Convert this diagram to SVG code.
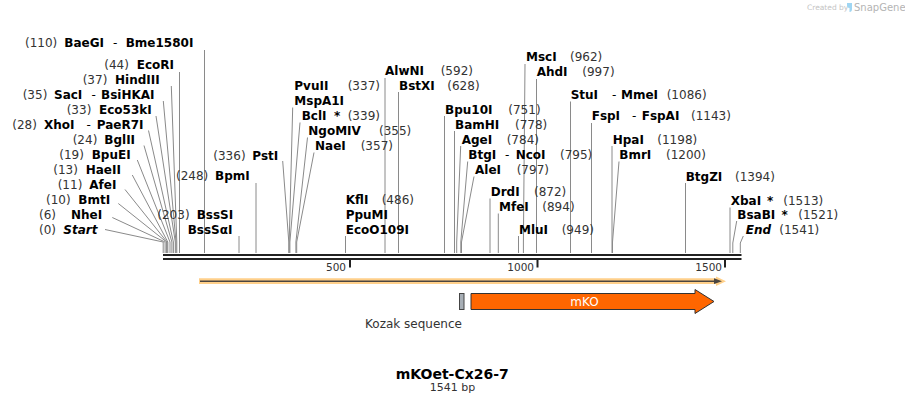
<svg xmlns="http://www.w3.org/2000/svg" width="905" height="404" viewBox="0 0 905 404">
<style>
text{font-family:"DejaVu Sans",Verdana,sans-serif}
.n{font-size:12px;font-weight:bold;fill:#000}
.i{font-style:italic}
.p{font-size:12px;fill:#333}
.d{font-size:12px;fill:#000}
.ln{stroke:#8a8a8a;stroke-width:1;fill:none}
.rl{stroke:#222;stroke-width:2}
.tk{fill:#222}
.tl{font-size:10.5px;fill:#333;text-anchor:end}
</style>
<rect width="905" height="404" fill="#fff"/>

<g id="logo">
<text x="807" y="10" style="font-size:7.5px;fill:#c4c4c4">Created by</text>
<path d="M847,3 h5 v6 q0,3 -2.5,3 v-4 q-2.5,0 -2.5,-2.5z" fill="#9fd5f2"/>
<text x="854" y="11" style="font-size:10px;fill:#b4b4b4">SnapGene</text>
</g>

<g id="connectors">
<path class="ln" d="M204.5,50V253M179.5,72V253"/>
<polyline class="ln" points="171.3,86 176.8,242 176.8,253"/>
<polyline class="ln" points="163.3,101 176,242 176,253"/>
<polyline class="ln" points="156,116 175.3,242 175.3,253"/>
<polyline class="ln" points="148.5,130.5 173.4,242 173.4,253"/>
<polyline class="ln" points="144,145.5 171.9,242 171.9,253"/>
<polyline class="ln" points="137.3,160 170,242 170,253"/>
<polyline class="ln" points="132.3,175 167.8,242 167.8,253"/>
<polyline class="ln" points="125,189.5 167,242 167,253"/>
<polyline class="ln" points="118.3,203.5 166.6,242 166.6,253"/>
<polyline class="ln" points="112.3,217.5 165.1,242 165.1,253"/>
<polyline class="ln" points="105,229.5 163.2,242 163.2,253"/>
<path class="ln" d="M256,183V253M239,236V253"/>
<polyline class="ln" points="282.7,161 288.8,242 288.8,253"/>
<polyline class="ln" points="292.7,107.5 289.2,242 289.2,253"/>
<polyline class="ln" points="300,122.5 289.9,242 289.9,253"/>
<polyline class="ln" points="307.5,137.5 295.9,242 295.9,253"/>
<polyline class="ln" points="314,152.5 296.7,242 296.7,253"/>
<path class="ln" d="M385,78V253M398.5,92V253M345.5,236V253M444.5,116V253M454.5,131V253"/>
<polyline class="ln" points="460.7,146 456.7,242 456.7,253"/>
<polyline class="ln" points="467.7,161.5 460.8,242 460.8,253"/>
<polyline class="ln" points="474,176.5 461.5,242 461.5,253"/>
<path class="ln" d="M490,198.5V253M498.3,213.5V253M518.5,236V253"/>
<polyline class="ln" points="525,64 523.4,242 523.4,253"/>
<path class="ln" d="M536.5,79V253M570.5,101.5V253M591.5,123V253M612,146V253"/>
<polyline class="ln" points="619,161.5 612.5,242 612.5,253"/>
<path class="ln" d="M685.5,183V253M730,207.5V253"/>
<polyline class="ln" points="736.7,221 732.8,243 732.8,253"/>
<polyline class="ln" points="743.3,236 740.3,243 740.3,253"/>
</g>

<g id="ruler">
<line class="rl" x1="163" y1="255" x2="741.5" y2="255"/>
<line class="rl" x1="163" y1="259" x2="741.5" y2="259"/>
<rect class="tk" x="349" y="260" width="2" height="7.5"/>
<rect class="tk" x="536.5" y="260" width="2" height="7.5"/>
<rect class="tk" x="724" y="260" width="2" height="7.5"/>
<text class="tl" x="346" y="270.5">500</text>
<text class="tl" x="534" y="270.5">1000</text>
<text class="tl" x="722" y="270.5">1500</text>
</g>

<g id="n-BaeGI"><text class="p" x="25" y="47">(110)</text><text class="n" x="64.3" y="47">BaeGI</text><text class="d" x="113" y="47">-</text><text class="n" x="125.7" y="47">Bme1580I</text></g>
<g id="n-EcoRI"><text class="p" x="104.3" y="69">(44)</text><text class="n" x="136.7" y="69">EcoRI</text></g>
<g id="n-HindIII"><text class="p" x="82.7" y="84">(37)</text><text class="n" x="115" y="84">HindIII</text></g>
<g id="n-SacI"><text class="p" x="22.7" y="99">(35)</text><text class="n" x="54" y="99">SacI</text><text class="d" x="91.5" y="99">-</text><text class="n" x="101" y="99">BsiHKAI</text></g>
<g id="n-Eco53kI"><text class="p" x="66.7" y="114">(33)</text><text class="n" x="99" y="114">Eco53kI</text></g>
<g id="n-XhoI"><text class="p" x="12.3" y="129">(28)</text><text class="n" x="44" y="129">XhoI</text><text class="d" x="86.5" y="129">-</text><text class="n" x="96.7" y="129">PaeR7I</text></g>
<g id="n-BglII"><text class="p" x="72.7" y="144">(24)</text><text class="n" x="104.3" y="144">BglII</text></g>
<g id="n-BpuEI"><text class="p" x="59.3" y="159">(19)</text><text class="n" x="91.7" y="159">BpuEI</text></g>
<g id="n-HaeII"><text class="p" x="53.3" y="174">(13)</text><text class="n" x="85.7" y="174">HaeII</text></g>
<g id="n-AfeI"><text class="p" x="57.7" y="189">(11)</text><text class="n" x="89.3" y="189">AfeI</text></g>
<g id="n-BmtI"><text class="p" x="46" y="204">(10)</text><text class="n" x="78.3" y="204">BmtI</text></g>
<g id="n-NheI"><text class="p" x="39" y="219">(6)</text><text class="n" x="71" y="219">NheI</text></g>
<g id="n-Start"><text class="p" x="39" y="234">(0)</text><text class="n i" x="63.3" y="234">Start</text></g>

<g id="n-BpmI"><text class="p" x="176" y="180">(248)</text><text class="n" x="215" y="180">BpmI</text></g>
<g id="n-BssSI"><text class="p" x="157.3" y="219">(203)</text><text class="n" x="196.7" y="219">BssSI</text><text class="n" x="187.7" y="234">BssSαI</text></g>
<g id="n-PstI"><text class="p" x="213.3" y="160">(336)</text><text class="n" x="252.3" y="160">PstI</text></g>
<g id="n-PvuII"><text class="n" x="294.3" y="90">PvuII</text><text class="p" x="347.7" y="90">(337)</text><text class="n" x="294.3" y="105">MspA1I</text></g>
<g id="n-BclI"><text class="n" x="301.7" y="120">BclI</text><text class="n" x="334" y="120">*</text><text class="p" x="347.7" y="120">(339)</text></g>
<g id="n-NgoMIV"><text class="n" x="308.3" y="135">NgoMIV</text><text class="p" x="379" y="135">(355)</text></g>
<g id="n-NaeI"><text class="n" x="315" y="150">NaeI</text><text class="p" x="360.7" y="150">(357)</text></g>
<g id="n-AlwNI"><text class="n" x="385" y="75">AlwNI</text><text class="p" x="440.7" y="75">(592)</text></g>
<g id="n-BstXI"><text class="n" x="399" y="90">BstXI</text><text class="p" x="447.3" y="90">(628)</text></g>
<g id="n-KflI"><text class="n" x="345.7" y="204">KflI</text><text class="p" x="381.7" y="204">(486)</text><text class="n" x="345.7" y="219">PpuMI</text><text class="n" x="345.7" y="234">EcoO109I</text></g>
<g id="n-Bpu10I"><text class="n" x="445" y="113.5">Bpu10I</text><text class="p" x="508.3" y="113.5">(751)</text></g>
<g id="n-BamHI"><text class="n" x="455" y="128.5">BamHI</text><text class="p" x="515" y="128.5">(778)</text></g>
<g id="n-AgeI"><text class="n" x="461.7" y="143.5">AgeI</text><text class="p" x="506.7" y="143.5">(784)</text></g>
<g id="n-BtgI"><text class="n" x="468.3" y="158.5">BtgI</text><text class="d" x="505" y="158.5">-</text><text class="n" x="515.7" y="158.5">NcoI</text><text class="p" x="560" y="158.5">(795)</text></g>
<g id="n-AleI"><text class="n" x="475" y="173.5">AleI</text><text class="p" x="516.7" y="173.5">(797)</text></g>
<g id="n-DrdI"><text class="n" x="490.7" y="196">DrdI</text><text class="p" x="534" y="196">(872)</text></g>
<g id="n-MfeI"><text class="n" x="499" y="211">MfeI</text><text class="p" x="542.3" y="211">(894)</text></g>
<g id="n-MluI"><text class="n" x="519" y="233.5">MluI</text><text class="p" x="561.7" y="233.5">(949)</text></g>
<g id="n-MscI"><text class="n" x="526" y="61">MscI</text><text class="p" x="570" y="61">(962)</text></g>
<g id="n-AhdI"><text class="n" x="536.7" y="76">AhdI</text><text class="p" x="582.3" y="76">(997)</text></g>
<g id="n-StuI"><text class="n" x="570.7" y="98.5">StuI</text><text class="d" x="612" y="98.5">-</text><text class="n" x="621" y="98.5">MmeI</text><text class="p" x="666.7" y="98.5">(1086)</text></g>
<g id="n-FspI"><text class="n" x="591.7" y="120">FspI</text><text class="d" x="632" y="120">-</text><text class="n" x="641.7" y="120">FspAI</text><text class="p" x="691" y="120">(1143)</text></g>
<g id="n-HpaI"><text class="n" x="612.7" y="143.5">HpaI</text><text class="p" x="657.3" y="143.5">(1198)</text></g>
<g id="n-BmrI"><text class="n" x="619.3" y="158.5">BmrI</text><text class="p" x="666" y="158.5">(1200)</text></g>
<g id="n-BtgZI"><text class="n" x="685.7" y="180.5">BtgZI</text><text class="p" x="735" y="180.5">(1394)</text></g>
<g id="n-XbaI"><text class="n" x="730.7" y="205">XbaI</text><text class="n" x="767" y="205">*</text><text class="p" x="783.3" y="205">(1513)</text></g>
<g id="n-BsaBI"><text class="n" x="737.3" y="219">BsaBI</text><text class="n" x="781.5" y="219">*</text><text class="p" x="798.3" y="219">(1521)</text></g>
<g id="n-End"><text class="n i" x="745.7" y="234">End</text><text class="p" x="779.3" y="234">(1541)</text></g>

<g id="f-orf">
<path d="M199,278.3H716V276.5L726,281.2L716,286V284.1H199Z" fill="#ffd08a"/>
<line x1="200" y1="281.2" x2="716" y2="281.2" stroke="#4a4540" stroke-width="1.6"/>
<path d="M714,278.3L722,281.2L714,284.1Z" fill="#4a4540"/>
</g>
<g id="f-kozak">
<rect x="459.5" y="293.5" width="4.5" height="16" fill="#a7aeb5" stroke="#444" stroke-width="1"/>
<text x="413.5" y="327.5" text-anchor="middle" style="font-size:12px;fill:#333">Kozak sequence</text>
</g>
<g id="f-mKO">
<path d="M471,293.5H695V289.5L714,301.5L695,313.5V309.5H471Z" fill="#ff6600" stroke="#333" stroke-width="1"/>
<text x="584.5" y="306" text-anchor="middle" style="font-size:12px;fill:#fff">mKO</text>
</g>

<g id="title">
<text x="452.2" y="378.5" text-anchor="middle" style="font-size:14px;font-weight:bold;fill:#000">mKOet-Cx26-7</text>
<text x="452.5" y="391" text-anchor="middle" style="font-size:11px;fill:#333">1541 bp</text>
</g>
</svg>
